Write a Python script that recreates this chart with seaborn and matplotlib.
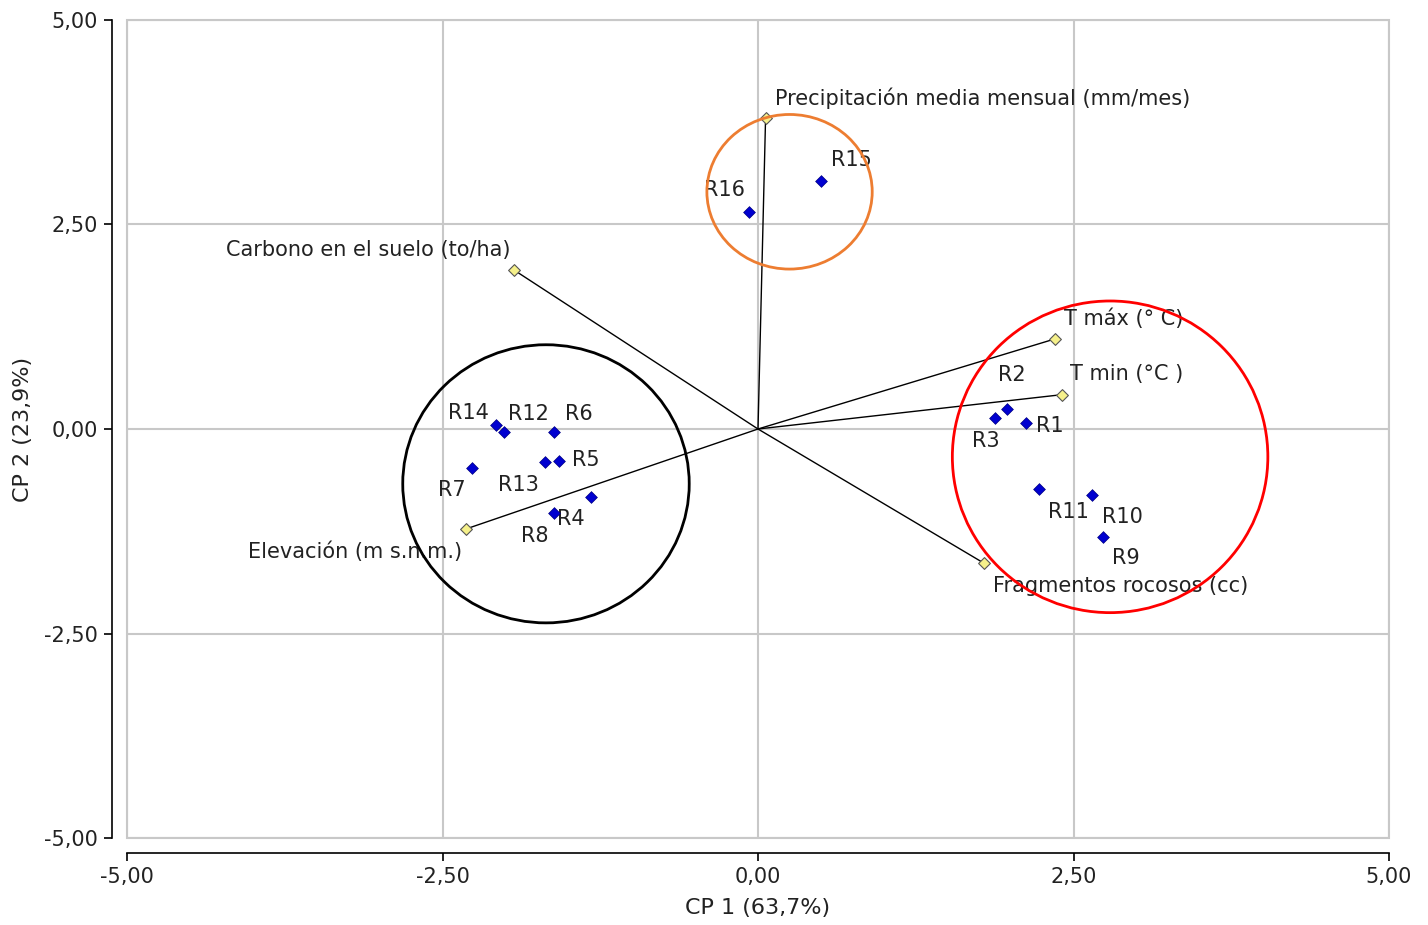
import matplotlib
matplotlib.use("Agg")
import matplotlib.pyplot as plt
import seaborn as sns
import pandas as pd
from matplotlib.patches import Ellipse, Rectangle

# sitios (observaciones)
sitios = ["R1", "R2", "R3", "R4", "R5", "R6", "R7", "R8", "R9", "R10",
          "R11", "R12", "R13", "R14", "R15", "R16"]
cp1_sitios = [2.12, 1.97, 1.88, -1.32, -1.58, -1.62, -2.27, -1.62, 2.73, 2.65,
              2.23, -2.01, -1.69, -2.08, 0.50, -0.07]
cp2_sitios = [0.07, 0.24, 0.13, -0.83, -0.39, -0.04, -0.48, -1.03, -1.32, -0.81,
              -0.73, -0.04, -0.40, 0.05, 3.03, 2.65]

# variables (vectores)
variables = ["Precipitación media mensual (mm/mes)", "Carbono en el suelo (to/ha)",
             "T máx (° C)", "T min (°C )", "Elevación (m s.n.m.)",
             "Fragmentos rocosos (cc)"]
cp1_vars = [0.06, -1.93, 2.35, 2.41, -2.31, 1.79]
cp2_vars = [3.80, 1.94, 1.10, 0.42, -1.22, -1.64]

ticks = [-5.0, -2.5, 0.0, 2.5, 5.0]
tick_labels = ["-5,00", "-2,50", "0,00", "2,50", "5,00"]

# grupos marcados con círculos: centro x, centro y, ancho, alto, color
grupos = [(-1.68, -0.67, 2.27, 3.40, "black"),
          (0.25, 2.90, 1.31, 1.89, "#ed7d31"),
          (2.79, -0.34, 2.50, 3.81, "red")]

# desplazamientos de etiquetas (pixeles)
off_sitios = {"R14": (-27, 12), "R12": (24, 18), "R6": (25, 18), "R5": (27, 1),
              "R13": (-26, -23), "R7": (-20, -22), "R4": (-21, -22), "R8": (-19, -23),
              "R2": (5, 34), "R3": (-9, -23), "R1": (24, -3), "R11": (29, -23),
              "R10": (30, -22), "R9": (23, -21), "R15": (30, 21), "R16": (-25, 22)}
off_vars = [(9, 20, "left"), (-4, 20, "right"), (9, 20, "left"), (8, 21, "left"),
            (-4, -23, "right"), (9, -23, "left")]

df_s = pd.DataFrame({"sitio": sitios, "CP1": cp1_sitios, "CP2": cp2_sitios})
df_v = pd.DataFrame({"variable": variables, "CP1": cp1_vars, "CP2": cp2_vars})

sns.set_style("white")
plt.rcParams["font.family"] = ["DejaVu Sans"]
txt = "#222222"
fs = 15

fig = plt.figure(figsize=(14.28, 9.25), dpi=100)
ax = fig.add_axes([127 / 1428, 1 - 838 / 925, 1262 / 1428, 818 / 925])
ax.set_xlim(-5, 5)
ax.set_ylim(-5, 5)

for t in ticks:
    ax.axvline(t, color="#c8c8c8", lw=1.5, zorder=0)
    ax.axhline(t, color="#c8c8c8", lw=1.5, zorder=0)
ax.add_patch(Rectangle((0, 0), 1, 1, transform=ax.transAxes, fill=False,
                       edgecolor="#c8c8c8", lw=1.5, zorder=0, clip_on=False))

for x, y in zip(cp1_vars, cp2_vars):
    ax.plot([0, x], [0, y], color="black", lw=1, zorder=2)

sns.scatterplot(data=df_v, x="CP1", y="CP2", marker="D", s=36, color="#f5f08a",
                edgecolor="#555555", linewidth=0.8, ax=ax, zorder=3)
sns.scatterplot(data=df_s, x="CP1", y="CP2", marker="D", s=36, color="#0000d0",
                edgecolor="#000080", linewidth=0.5, ax=ax, zorder=4)

for s, x, y in zip(sitios, cp1_sitios, cp2_sitios):
    dx, dy = off_sitios[s]
    ax.annotate(s, (x, y), xytext=(dx, dy), textcoords="offset pixels",
                ha="center", va="center", fontsize=fs, color=txt)
for v, x, y, (dx, dy, ha) in zip(variables, cp1_vars, cp2_vars, off_vars):
    ax.annotate(v, (x, y), xytext=(dx, dy), textcoords="offset pixels",
                ha=ha, va="center", fontsize=fs, color=txt)

for cx, cy, w, h, c in grupos:
    ax.add_patch(Ellipse((cx, cy), w, h, fill=False, edgecolor=c, lw=2, zorder=5))

for side in ["top", "right"]:
    ax.spines[side].set_visible(False)
for side in ["left", "bottom"]:
    ax.spines[side].set_position(("outward", 11))
    ax.spines[side].set_color("black")
    ax.spines[side].set_linewidth(1.2)

ax.set_xticks(ticks)
ax.set_xticklabels(tick_labels)
ax.set_yticks(ticks)
ax.set_yticklabels(tick_labels)
ax.tick_params(axis="both", direction="out", length=6, width=1.2, color="black",
               labelsize=fs, labelcolor=txt, pad=4)
ax.tick_params(axis="x", bottom=True)
ax.tick_params(axis="y", left=True)

ax.set_xlabel("CP 1 (63,7%)", fontsize=fs + 1, color=txt, labelpad=8)
ax.set_ylabel("CP 2 (23,9%)", fontsize=fs + 1, color=txt, labelpad=8)

fig.savefig("out.png", dpi=100)
